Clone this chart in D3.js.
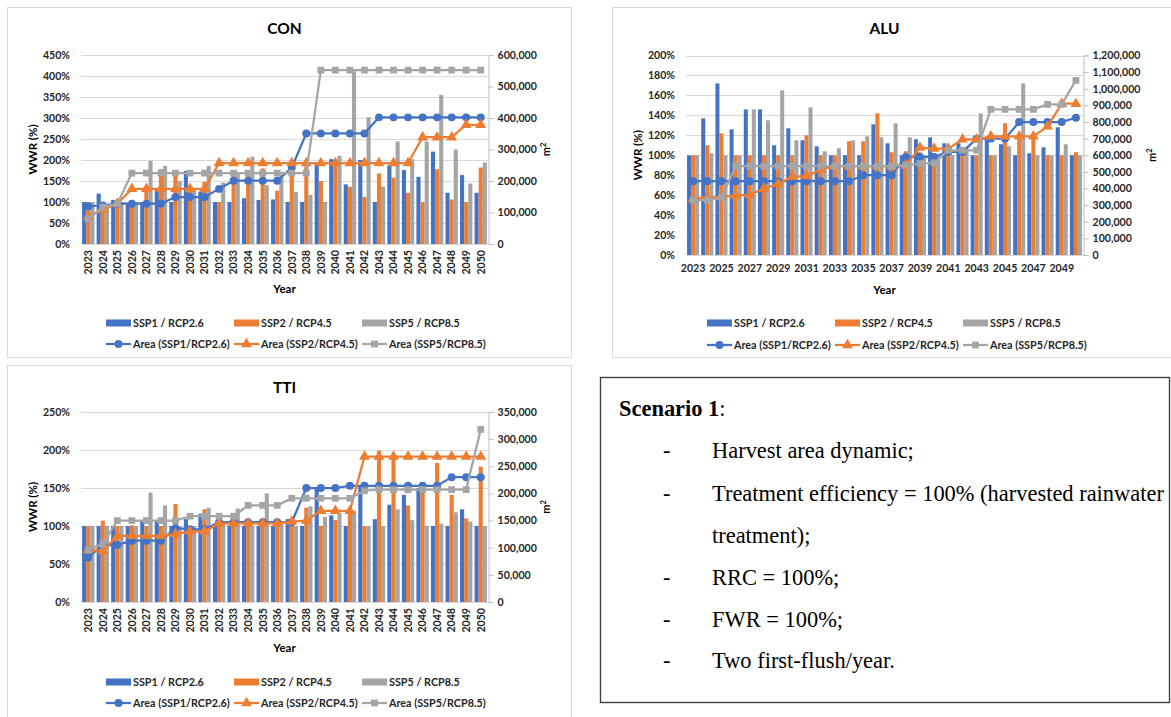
<!DOCTYPE html>
<html><head><meta charset="utf-8">
<script src="https://cdn.jsdelivr.net/npm/d3@7"></script>
<style>
body{margin:0;background:#fff;}
svg{display:block;}
.xl text{font-family:Lato,'Open Sans',sans-serif;}
</style>
</head><body>
<svg id="c" width="1171" height="717"></svg>
<script>
// ---------- DATA ----------
const years = [2023,2024,2025,2026,2027,2028,2029,2030,2031,2032,2033,2034,2035,2036,2037,2038,2039,2040,2041,2042,2043,2044,2045,2046,2047,2048,2049,2050];
const barSeries = ["SSP1 / RCP2.6","SSP2 / RCP4.5","SSP5 / RCP8.5"];
const lineSeries = ["Area (SSP1/RCP2.6)","Area (SSP2/RCP4.5)","Area (SSP5/RCP8.5)"];

// CON – WWR (fraction) and harvest area (thousand m²)
const conSSP1 = [1.00,1.20,1.05,0.95,1.00,1.32,1.00,1.74,1.25,1.00,1.00,1.09,1.05,1.06,1.00,1.00,1.93,2.02,1.42,2.00,1.00,1.88,1.76,1.60,2.20,1.22,1.64,1.22];
const conSSP2 = [1.00,0.88,1.00,1.00,1.30,1.78,1.65,1.30,1.48,1.00,1.65,1.64,1.80,1.27,1.90,1.85,1.50,2.00,1.36,1.12,1.68,1.58,1.22,1.00,1.78,1.06,1.00,1.82];
const conSSP5 = [1.00,0.95,1.00,1.00,1.98,1.86,1.50,1.28,1.86,1.46,1.70,2.08,1.40,1.65,1.24,1.17,1.00,2.10,4.11,3.02,1.37,2.44,2.02,2.44,3.55,2.25,1.44,1.94];
const conArea1 = [120,122,128,128,128,128,149,149,149,175,201,201,201,201,242,351,351,351,351,351,402,402,402,402,402,402,402,402];
const conArea2 = [88,109,128,175,175,175,175,175,175,257,257,257,257,257,257,257,257,257,257,257,257,257,257,339,339,339,378,378];
const conArea3 = [80,117,128,225,225,225,225,225,225,225,225,225,225,225,225,225,552,552,552,552,552,552,552,552,552,552,552,552];

// ALU
const aluSSP1 = [1.00,1.37,1.72,1.26,1.46,1.46,1.10,1.27,1.15,1.09,1.00,1.00,1.00,1.31,1.12,1.00,1.16,1.18,1.12,1.12,1.00,1.18,1.11,1.00,1.02,1.08,1.28,1.00];
const aluSSP2 = [1.00,1.10,1.22,1.00,1.00,1.00,1.00,1.00,1.20,1.00,1.00,1.14,1.14,1.42,1.03,1.04,1.03,1.02,1.00,1.00,1.00,1.00,1.32,1.18,1.18,1.00,1.00,1.03];
const aluSSP5 = [1.00,1.02,1.00,1.00,1.46,1.35,1.65,1.15,1.48,1.04,1.07,1.15,1.19,1.18,1.32,1.18,1.00,1.00,1.00,1.07,1.42,1.00,1.09,1.72,1.00,1.00,1.11,1.00];
const aluArea1 = [444,444,444,444,444,444,444,444,444,444,444,444,480,480,480,590,590,590,620,620,700,700,700,800,800,800,800,826];
const aluArea2 = [340,345,350,358,362,400,428,470,474,515,534,534,534,534,534,540,646,640,640,696,696,714,714,714,714,774,910,910];
const aluArea3 = [330,330,346,534,534,534,534,534,534,534,534,534,534,534,534,540,550,554,630,630,630,876,876,876,876,906,906,1050];

// TTI
const ttiSSP1 = [1.00,1.00,1.00,1.00,1.07,1.06,1.00,1.09,1.16,1.01,1.01,1.00,1.00,1.00,1.09,1.00,1.50,1.14,1.00,1.52,1.09,1.28,1.41,1.50,1.00,1.00,1.22,1.00];
const ttiSSP2 = [1.00,1.07,1.00,1.01,1.00,1.00,1.29,1.00,1.22,1.06,1.01,1.01,1.01,1.08,1.00,1.24,1.00,1.08,1.19,1.00,1.99,1.92,1.27,1.48,1.83,1.41,1.10,1.78];
const ttiSSP5 = [1.00,1.00,1.00,1.00,1.44,1.27,1.00,1.00,1.24,1.04,1.23,1.00,1.43,1.04,1.00,1.26,1.12,1.17,1.20,1.00,1.00,1.22,1.08,1.00,1.03,1.18,1.06,1.00];
const ttiArea1 = [82,105,105,113,113,113,136,134,134,147,147,147,147,147,147,210,210,210,214,214,214,214,214,214,214,230,230,230];
const ttiArea2 = [96,94,122,122,122,122,125,130,130,145,145,145,145,145,148,150,168,168,168,268,268,268,268,268,268,268,268,268];
const ttiArea3 = [96,107,150,150,150,150,150,158,158,158,158,178,178,178,191,191,191,191,191,205,207,207,207,207,207,207,207,318];

// tick values
const conLeftTicks = [0,0.5,1,1.5,2,2.5,3,3.5,4,4.5];
const conRightTicks = [0,100,200,300,400,500,600];
const aluLeftTicks = [0,0.2,0.4,0.6,0.8,1.0,1.2,1.4,1.6,1.8,2.0];
const aluRightTicks = [0,100,200,300,400,500,600,700,800,900,1000,1100,1200];
const ttiLeftTicks = [0,0.5,1,1.5,2,2.5];
const ttiRightTicks = [0,50,100,150,200,250,300,350];
const aluXTicks = [2023,2025,2027,2029,2031,2033,2035,2037,2039,2041,2043,2045,2047,2049];

const scenarioTitle = "Scenario 1";
const scenarioItems = ["Harvest area dynamic;","Treatment efficiency = 100% (harvested rainwater","treatment);","RRC = 100%;","FWR = 100%;","Two first-flush/year."];

// ---------- STYLE ----------
const colors = ["#4472C4","#ED7D31","#A5A5A5"];
const txtCol = "#262626";
const fmtPct = d3.format(".0%");
const fmtNum = v => d3.format(",")(v*1000);
const svg = d3.select("#c");
const markerSym = [d3.symbolCircle, d3.symbolTriangle, d3.symbolSquare];
const markerSize = [50, 52, 46];

function panel(cfg){
  const g = svg.append("g").attr("class","xl");
  g.append("rect").attr("x",cfg.frame[0]+0.5).attr("y",cfg.frame[1]+0.5)
    .attr("width",cfg.frame[2]).attr("height",cfg.frame[3])
    .attr("fill","#fff").attr("stroke","#d9d9d9");
  const x = d3.scaleBand().domain(years).range([cfg.x0,cfg.x1]).paddingInner(0.15).paddingOuter(0.075);
  const xs = d3.scaleBand().domain([0,1,2]).range([0,x.bandwidth()]);
  const yL = d3.scaleLinear().domain([0,cfg.lMax]).range([cfg.yB,cfg.yT]);
  const yR = d3.scaleLinear().domain([0,cfg.rMax]).range([cfg.yB,cfg.yT]);
  // grid
  g.append("g").selectAll("line").data(cfg.lTicks).join("line")
    .attr("x1",cfg.x0).attr("x2",cfg.x1)
    .attr("y1",d=>Math.round(yL(d))+0.5).attr("y2",d=>Math.round(yL(d))+0.5)
    .attr("stroke","#d9d9d9").attr("stroke-width",1);
  // left axis
  const la = g.append("g").attr("transform",`translate(${cfg.x0},0)`)
    .call(d3.axisLeft(yL).tickValues(cfg.lTicks).tickFormat(fmtPct).tickSize(0).tickPadding(11));
  la.select(".domain").remove();
  la.selectAll("text").attr("font-size",10.6).attr("font-weight","bold").attr("fill",txtCol);
  // right axis
  const ra = g.append("g").attr("transform",`translate(${cfg.x1+0.5},0)`)
    .call(d3.axisRight(yR).tickValues(cfg.rTicks).tickFormat(fmtNum).tickSize(5).tickPadding(4));
  ra.select(".domain").attr("stroke","#bfbfbf");
  ra.selectAll("line").attr("stroke","#bfbfbf");
  ra.selectAll("text").attr("font-size",10.6).attr("font-weight","bold").attr("fill",txtCol);
  // bars
  cfg.bars.forEach((arr,si)=>{
    g.append("g").selectAll("rect").data(arr).join("rect")
      .attr("x",(d,i)=>x(years[i])+xs(si))
      .attr("width",xs.bandwidth())
      .attr("y",d=>yL(d)).attr("height",d=>cfg.yB-yL(d))
      .attr("fill",colors[si]);
  });
  // x axis
  const xa = g.append("g").attr("transform",`translate(0,${cfg.yB})`)
    .call(d3.axisBottom(x).tickValues(cfg.xTicks||years).tickSize(0));
  xa.select(".domain").remove();
  xa.selectAll("text").attr("font-size",10.6).attr("font-weight","bold").attr("fill",txtCol);
  if(cfg.rotate){
    xa.selectAll("text").attr("transform","rotate(-90)").attr("text-anchor","end")
      .attr("x",-6).attr("y",0).attr("dy","0.36em");
  } else {
    xa.selectAll("text").attr("y",9);
  }
  // lines
  const cx = i => x(years[i]) + x.bandwidth()/2;
  cfg.lines.forEach((arr,si)=>{
    const line = d3.line().x((d,i)=>cx(i)).y(d=>yR(d));
    g.append("path").datum(arr).attr("d",line).attr("fill","none")
      .attr("stroke",colors[si]).attr("stroke-width",2.25).attr("stroke-linejoin","round");
    g.append("g").selectAll("path").data(arr).join("path")
      .attr("d",d3.symbol(markerSym[si],markerSize[si]))
      .attr("transform",(d,i)=>`translate(${cx(i)},${yR(d)})`)
      .attr("fill",colors[si]);
  });
  // titles
  g.append("text").attr("x",(cfg.x0+cfg.x1)/2).attr("y",cfg.titleY).attr("text-anchor","middle")
    .attr("font-size",15.5).attr("font-weight","bold").attr("fill","#000").text(cfg.title);
  const my = (cfg.yT+cfg.yB)/2;
  g.append("text").attr("transform",`translate(${cfg.wwrX},${my}) rotate(-90)`).attr("text-anchor","middle")
    .attr("font-size",11.5).attr("font-weight","bold").attr("fill","#000").text("WWR (%)");
  const mt = g.append("text").attr("transform",`translate(${cfg.m2X},${my}) rotate(-90)`).attr("text-anchor","middle")
    .attr("font-size",11).attr("font-weight","bold").attr("fill","#000");
  mt.append("tspan").text("m");
  mt.append("tspan").attr("font-size",7.5).attr("dy",-4).text("2");
  g.append("text").attr("x",(cfg.x0+cfg.x1)/2).attr("y",cfg.yearY).attr("text-anchor","middle")
    .attr("font-size",11.5).attr("font-weight","bold").attr("fill","#000").text("Year");
  // legend
  barSeries.forEach((s,i)=>{
    const lx = cfg.legX + i*128;
    g.append("rect").attr("x",lx).attr("y",cfg.legY1-3.5).attr("width",25).attr("height",7).attr("fill",colors[i]);
    g.append("text").attr("x",lx+27).attr("y",cfg.legY1).attr("dy","0.35em")
      .attr("font-size",10.8).attr("font-weight","bold").attr("fill",txtCol).text(s);
  });
  lineSeries.forEach((s,i)=>{
    const lx = cfg.legX + i*128;
    g.append("line").attr("x1",lx).attr("x2",lx+25).attr("y1",cfg.legY2).attr("y2",cfg.legY2)
      .attr("stroke",colors[i]).attr("stroke-width",2.25);
    g.append("path").attr("d",d3.symbol(markerSym[i],markerSize[i])).attr("transform",`translate(${lx+12.5},${cfg.legY2})`).attr("fill",colors[i]);
    g.append("text").attr("x",lx+27).attr("y",cfg.legY2).attr("dy","0.35em")
      .attr("font-size",10.8).attr("font-weight","bold").attr("fill",txtCol).text(s);
  });
}

panel({title:"CON",frame:[7,7,564,350],x0:81,x1:488,yT:55,yB:244,lMax:4.5,rMax:600,
  lTicks:conLeftTicks,rTicks:conRightTicks,bars:[conSSP1,conSSP2,conSSP5],lines:[conArea1,conArea2,conArea3],
  rotate:true,titleY:34,wwrX:37,m2X:550,yearY:293,legX:106,legY1:323,legY2:344});
panel({title:"ALU",frame:[612,7,570,350],x0:686,x1:1083,yT:55.5,yB:255,lMax:2.0,rMax:1200,
  lTicks:aluLeftTicks,rTicks:aluRightTicks,bars:[aluSSP1,aluSSP2,aluSSP5],lines:[aluArea1,aluArea2,aluArea3],
  rotate:false,xTicks:aluXTicks,titleY:34,wwrX:642,m2X:1156,yearY:294,legX:707,legY1:323,legY2:345});
panel({title:"TTI",frame:[7,365,564,360],x0:81,x1:488,yT:412,yB:602,lMax:2.5,rMax:350,
  lTicks:ttiLeftTicks,rTicks:ttiRightTicks,bars:[ttiSSP1,ttiSSP2,ttiSSP5],lines:[ttiArea1,ttiArea2,ttiArea3],
  rotate:true,titleY:393,wwrX:37,m2X:550,yearY:652,legX:106,legY1:682,legY2:703});

// ---------- Scenario box ----------
const box = svg.append("g");
box.append("rect").attr("x",600.5).attr("y",377.5).attr("width",569).attr("height",325)
  .attr("fill","#fff").attr("stroke","#404040").attr("stroke-width",1.4);
const serif = "'Liberation Serif','Times New Roman',serif";
const fs0 = 20;
const t0 = box.append("text").attr("x",619).attr("y",416).attr("font-family",serif).attr("font-size",fs0).attr("fill","#000");
t0.append("tspan").attr("font-weight","bold").text(scenarioTitle);
t0.append("tspan").text(":");
const baselines = [458,501,543,585,627,668];
scenarioItems.forEach((s,i)=>{
  const tt = box.append("text").attr("x",712).attr("y",baselines[i]).attr("font-family",serif)
    .attr("font-size",fs0).attr("fill","#000").text(s);
  if(i===1) tt.attr("id","longline");
  if(i!==2){
    box.append("text").attr("x",663).attr("y",baselines[i]).attr("font-family",serif)
      .attr("font-size",fs0).attr("fill","#000").text("-");
  }
});
// fit the long line to the reference width
const w = d3.select("#longline").node().getComputedTextLength();
box.selectAll("text").attr("font-size",fs0*452/w);
</script>
</body></html>
